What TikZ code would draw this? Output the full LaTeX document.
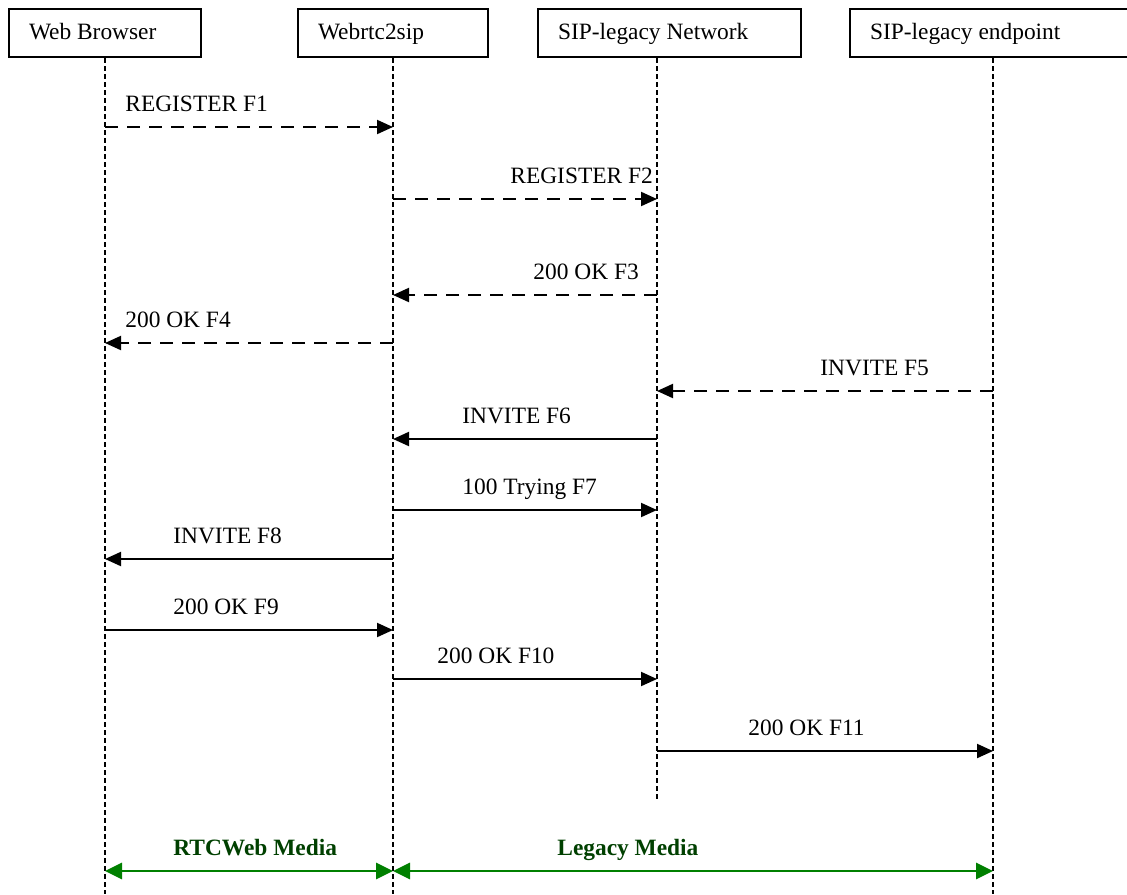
\documentclass[tikz,border=0pt]{standalone}
\usepackage{fontspec}
\setmainfont{Liberation Serif}
\usetikzlibrary{arrows.meta}
\definecolor{mediagreen}{RGB}{0,128,0}
\definecolor{medialabel}{RGB}{0,64,0}

\begin{document}
\begin{tikzpicture}[x=0.5pt,y=-0.5pt,font=\fontsize{11.7}{14}\selectfont,
  actor/.style={draw,line width=1pt,anchor=north west,inner xsep=10pt,inner ysep=0pt,minimum height=24pt,text height=8.5pt,text depth=2.5pt,text width=#1,align=flush left},
  life/.style={line width=0.7pt,dash pattern=on 2.5pt off 1.5pt},
  msg/.style={line width=1pt,-{Triangle[length=8pt,width=7pt]}},
  dmsg/.style={msg,dash pattern=on 6.5pt off 4.5pt},
  media/.style={mediagreen,line width=1.4pt,{Triangle[length=8.5pt,width=8pt]}-{Triangle[length=8.5pt,width=8pt]}},
  lbl/.style={anchor=base west,inner sep=0pt},
  medialbl/.style={lbl,text=medialabel,font=\fontsize{11.7}{14}\selectfont\bfseries}]
\useasboundingbox (0,0) rectangle (1127,894);
\clip (0,0) rectangle (1127,894);
% actors
\node[actor=76pt] (wb) at (8,8) {Web Browser};
\node[actor=75pt] (rtc) at (297,8) {Webrtc2sip};
\node[actor=111.5pt] (net) at (537,8) {SIP-legacy Network};
\node[actor=123pt] (ep) at (849,8) {SIP-legacy endpoint};
% lifelines
\coordinate (wb-l) at (wb.south);
\coordinate (rtc-l) at (rtc.south);
\coordinate (net-l) at ([xshift=-6.25pt]net.south);
\coordinate (ep-l) at (ep.south);
\coordinate (bot) at (0,894);
\coordinate (netend) at (0,800);
\draw[life] (wb-l) -- (wb-l |- bot);
\draw[life] (rtc-l) -- (rtc-l |- bot);
\draw[life] (net-l) -- (net-l |- netend);
\draw[life] (ep-l) -- (ep-l |- bot);
% messages
\foreach \n/\y/\a/\b/\s/\lx/\txt in %
{1/127/wb/rtc/dmsg/125/REGISTER F1,
 2/199/rtc/net/dmsg/510/REGISTER F2,
 3/295/net/rtc/dmsg/533/200 OK F3,
 4/343/rtc/wb/dmsg/125/200 OK F4,
 5/391/ep/net/dmsg/820/INVITE F5,
 6/439/net/rtc/msg/462/INVITE F6,
 7/510/rtc/net/msg/462/100 Trying F7,
 8/559/rtc/wb/msg/173/INVITE F8,
 9/630/wb/rtc/msg/173/200 OK F9,
 10/679/rtc/net/msg/437/200 OK F10,
 11/751/net/ep/msg/748/200 OK F11} {
   \coordinate (r\n) at (0,\y);
   \draw[\s] (\a-l |- r\n) -- (\b-l |- r\n);
   \node[lbl] (m\n) at (\lx,\y-16) {\txt};
}
% media
\coordinate (rm) at (0,871);
\draw[media] (wb-l |- rm) -- (rtc-l |- rm);
\draw[media] (rtc-l |- rm) -- (ep-l |- rm);
\node[medialbl] (rtcm) at (173,855) {RTCWeb Media};
\node[medialbl] (legm) at (557,855) {Legacy Media};
\end{tikzpicture}
\end{document}
